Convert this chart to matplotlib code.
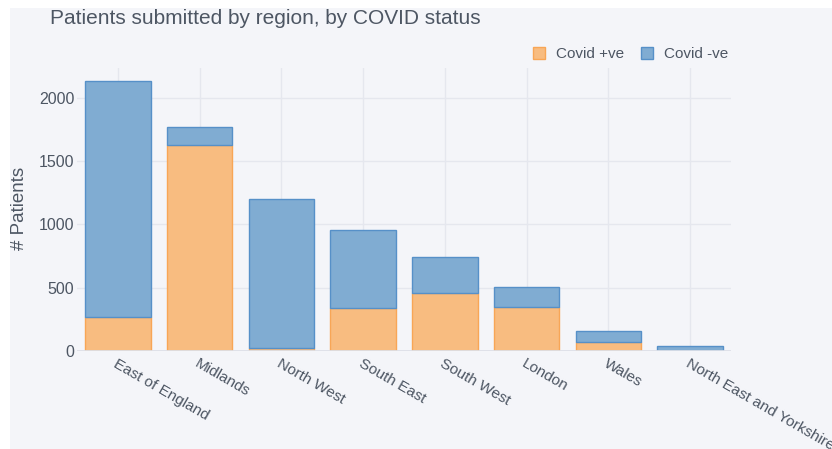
import matplotlib
matplotlib.use('Agg')
import matplotlib.pyplot as plt
from matplotlib.patches import Rectangle

plt.rcParams['font.family'] = ['Liberation Sans', 'DejaVu Sans']

regions = ['East of England', 'Midlands', 'North West', 'South East',
           'South West', 'London', 'Wales', 'North East and Yorkshire']
covid_pos = [268, 1629, 22, 337, 455, 345, 71, 0]
covid_neg = [1863, 137, 1178, 616, 285, 158, 87, 39]

txt = '#4d5663'
bg = '#f4f5f9'
grid = '#e5e7ee'

fig = plt.figure(figsize=(8.32, 4.49), dpi=100, facecolor='white')
fig.patches.append(Rectangle((10/832, 0), 1, 1 - 8/449, transform=fig.transFigure,
                             facecolor=bg, edgecolor='none', zorder=-10))
ax = fig.add_axes([77/832, 1 - 351/449, (731-77)/832, (351-68)/449])
ax.set_facecolor(bg)

x = range(len(regions))
ax.bar(x, covid_pos, width=0.8, color='#f8bc80', edgecolor='#f8a656', linewidth=1,
       label='Covid +ve', zorder=3)
ax.bar(x, covid_neg, width=0.8, bottom=covid_pos, color='#80acd2', edgecolor='#5690c8',
       linewidth=1, label='Covid -ve', zorder=3)

ax.set_xlim(-0.5, len(regions) - 0.5)
ax.set_ylim(0, 2235)
ax.set_yticks([0, 500, 1000, 1500, 2000])
ax.set_xticks(list(x))
ax.set_xticklabels(regions, rotation=-30, ha='left', va='top', rotation_mode='anchor',
                   fontsize=11, color=txt)
ax.tick_params(axis='x', length=0, pad=4)
ax.tick_params(axis='y', length=0, pad=2, labelsize=11.5, labelcolor=txt)
ax.grid(True, color=grid, linewidth=1, zorder=0)
ax.axhline(0, color='#dde0e8', linewidth=2, zorder=4)
for s in ax.spines.values():
    s.set_visible(False)

fig.text(19/832, 1 - 208/449, '# Patients', rotation=90, fontsize=13.5, color=txt,
         ha='center', va='center')
fig.text(50/832, 1 - 18/449, 'Patients submitted by region, by COVID status',
         fontsize=15, color=txt, va='center', ha='left')

leg = ax.legend(loc='center right', bbox_to_anchor=(1.0, 1 + 14/283), ncol=2, frameon=False,
                fontsize=11, labelcolor=txt, handlelength=0.8, handleheight=0.8,
                handletextpad=0.7, columnspacing=1.1, borderaxespad=0.0, borderpad=0.2)

fig.savefig('out.png', dpi=100, facecolor='white')
